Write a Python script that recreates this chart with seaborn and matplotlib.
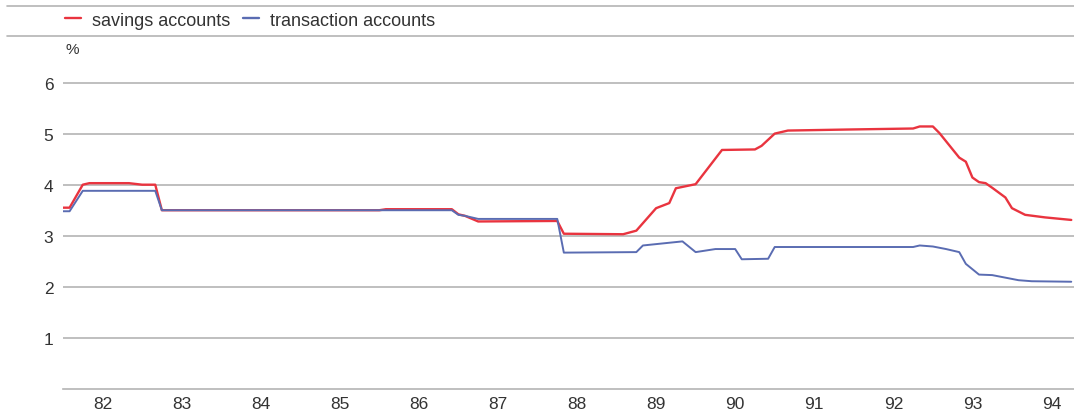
import matplotlib
matplotlib.use("Agg")
import matplotlib.pyplot as plt
import numpy as np
import pandas as pd
import seaborn as sns
from matplotlib.lines import Line2D

# interest rates, read at the kinks of each curve (month, %)
savings_months = [
    "1982-01", "1982-02", "1982-04", "1982-05", "1982-11", "1983-01", "1983-03",
    "1983-04", "1986-01", "1986-02", "1986-12", "1987-01", "1987-02", "1987-04",
    "1988-04", "1988-05", "1989-02", "1989-04", "1989-07", "1989-09", "1989-10",
    "1990-01", "1990-05", "1990-10", "1990-11", "1991-01", "1991-03", "1991-12",
    "1992-10", "1992-11", "1993-01", "1993-02", "1993-04", "1993-05", "1993-06",
    "1993-07", "1993-08", "1993-09", "1993-10", "1993-12", "1994-01", "1994-03",
    "1994-06", "1994-10",
]
savings_rate = [
    3.55, 3.55, 4.00, 4.03, 4.03, 4.00, 4.00,
    3.50, 3.50, 3.52, 3.52, 3.42, 3.39, 3.28,
    3.29, 3.04, 3.03, 3.10, 3.54, 3.64, 3.93,
    4.01, 4.68, 4.69, 4.76, 5.00, 5.06, 5.08,
    5.10, 5.14, 5.14, 5.01, 4.69, 4.53, 4.45,
    4.14, 4.05, 4.03, 3.94, 3.75, 3.54, 3.41,
    3.36, 3.31,
]

transaction_months = [
    "1982-01", "1982-02", "1982-04", "1983-03", "1983-04", "1986-12", "1987-01",
    "1987-02", "1987-04", "1988-04", "1988-05", "1989-04", "1989-05", "1989-11",
    "1990-01", "1990-04", "1990-07", "1990-08", "1990-12", "1991-01", "1992-10",
    "1992-11", "1993-01", "1993-03", "1993-05", "1993-06", "1993-08", "1993-10",
    "1994-02", "1994-04", "1994-10",
]
transaction_rate = [
    3.48, 3.48, 3.88, 3.88, 3.50, 3.50, 3.41,
    3.39, 3.33, 3.33, 2.67, 2.68, 2.81, 2.89,
    2.68, 2.74, 2.74, 2.54, 2.55, 2.78, 2.78,
    2.81, 2.79, 2.74, 2.68, 2.45, 2.24, 2.23,
    2.13, 2.11, 2.10,
]

series_names = ["savings accounts", "transaction accounts"]
series_colors = ["#e9343f", "#5a6cb2"]
year_labels = ["82", "83", "84", "85", "86", "87", "88", "89", "90", "91", "92", "93", "94"]
y_ticks = [1, 2, 3, 4, 5, 6]


def to_year(months):
  d = pd.to_datetime(months)
  return d.year + (d.month - 1) / 12.0


frames = []
for name, months, rate in [
  (series_names[0], savings_months, savings_rate),
  (series_names[1], transaction_months, transaction_rate),
]:
  frames.append(pd.DataFrame({"t": to_year(months), "rate": rate, "series": name}))
df = pd.concat(frames, ignore_index=True)

sns.set_style("white")
plt.rcParams["font.family"] = ["Liberation Sans", "DejaVu Sans"]

text_color = "#333333"
grid_color = "#b4b4b4"

fig = plt.figure(figsize=(10.74, 4.10), dpi=100)
ax = fig.add_axes([63 / 1074, 1 - 390 / 410, 1 - 63 / 1074, (390 - 58) / 410])

for name, color, lw in zip(series_names, series_colors, [1.7, 1.4]):
  sns.lineplot(
    data=df[df["series"] == name], x="t", y="rate", ax=ax,
    color=color, linewidth=lw, label=name, legend=False,
  )

ax.set_ylim(0, 6.5)
ax.set_xlim(1982, 1982 + 1011 / 79.08)

ax.set_yticks(y_ticks)
ax.set_yticklabels([str(v) for v in y_ticks])
ax.yaxis.grid(True, color=grid_color, linewidth=1.2)
ax.set_axisbelow(True)

first_year = 1982
ax.set_xticks([first_year + i for i in range(len(year_labels))])
ax.set_xticklabels([])
ax.set_xticks([first_year + i + 0.5 for i in range(len(year_labels))], minor=True)
ax.set_xticklabels(year_labels, minor=True)
ax.tick_params(axis="x", which="major", direction="in", length=7, width=1, color=grid_color)
ax.tick_params(axis="x", which="minor", length=0, pad=5, labelsize=12.5, labelcolor=text_color)
ax.tick_params(axis="y", length=0, pad=7, labelsize=12.5, labelcolor=text_color)

ax.set_xlabel("")
ax.set_ylabel("")
for side in ["top", "right", "left"]:
  ax.spines[side].set_visible(False)
ax.spines["bottom"].set_color(grid_color)
ax.spines["bottom"].set_linewidth(1.2)

# legend band at the top
handles = [Line2D([], [], color=c, linewidth=1.7) for c in series_colors]
fig.legend(
  handles, series_names, loc="center left", bbox_to_anchor=(65 / 1074, 1 - 21 / 410),
  ncol=2, frameon=False, fontsize=13, handlelength=0.9, handletextpad=0.6,
  columnspacing=0.7, labelcolor=text_color, borderaxespad=0, borderpad=0,
)
for yy in [7, 37]:
  fig.add_artist(Line2D([7 / 1074, 1], [1 - yy / 410, 1 - yy / 410],
                        transform=fig.transFigure, color=grid_color, linewidth=1.2))
fig.text(65 / 1074, 1 - 50 / 410, "%", fontsize=11, color=text_color, va="center", ha="left")

fig.savefig("out.png", dpi=100)
